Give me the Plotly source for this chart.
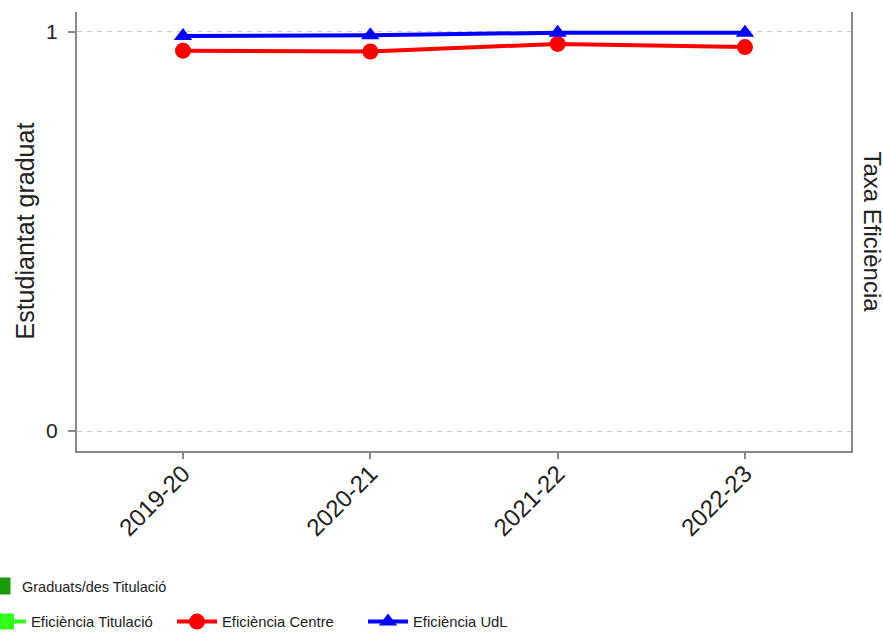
import plotly.graph_objects as go

categories = ["2019-20", "2020-21", "2021-22", "2022-23"]
graduats_titulacio = [None, None, None, None]
eficiencia_titulacio = [None, None, None, None]
eficiencia_centre = [0.953, 0.951, 0.970, 0.962]
eficiencia_udl = [0.990, 0.992, 0.998, 0.998]
y_ticks = [0, 1]

FONT = "Liberation Sans, Arial, sans-serif"
AXIS = "#8a8a8a"
L, W = 77, 774
PB, PH = 451, 439

fig = go.Figure()
fig.add_trace(go.Bar(
    x=categories, y=graduats_titulacio, name="Graduats/des Titulació",
    marker=dict(color="#1a9a08", line=dict(color="#1a9a08", width=5)),
    legend="legend",
))
fig.add_trace(go.Scatter(
    x=categories, y=eficiencia_titulacio, name="Eficiència Titulació",
    mode="lines+markers", line=dict(color="#33ff1a", width=4),
    marker=dict(symbol="square", size=16, color="#33ff1a"),
    legend="legend2",
))
fig.add_trace(go.Scatter(
    x=categories, y=eficiencia_centre, name="Eficiència Centre",
    mode="lines+markers", line=dict(color="#ff0000", width=4),
    marker=dict(symbol="circle", size=16, color="#ff0000"),
    legend="legend2",
))
fig.add_trace(go.Scatter(
    x=categories, y=eficiencia_udl, name="Eficiència UdL",
    mode="lines+markers", line=dict(color="#0000ff", width=4),
    marker=dict(symbol="triangle-up", size=16, color="#0000ff"),
    legend="legend2",
))

fig.update_layout(
    width=883, height=632,
    margin=dict(l=77, r=32, t=12, b=181, autoexpand=False),
    paper_bgcolor="white", plot_bgcolor="white",
    font=dict(family=FONT, color="#222"),
    showlegend=True,
    legend=dict(orientation="h", xref="paper", yref="paper",
                x=(-18 - L) / W, y=(PB - 586) / PH, xanchor="left", yanchor="middle",
                font=dict(size=14.5, family=FONT, color="#222"),
                bgcolor="rgba(0,0,0,0)"),
    legend2=dict(orientation="h", xref="paper", yref="paper",
                 x=(-19 - L) / W, y=(PB - 622) / PH, xanchor="left", yanchor="middle",
                 font=dict(size=14.8, family=FONT, color="#222"),
                 itemwidth=40, entrywidth=136, entrywidthmode="pixels",
                 bgcolor="rgba(0,0,0,0)"),
    xaxis=dict(
        type="category", range=[-0.566, 3.566],
        showline=True, linecolor=AXIS, linewidth=2,
        ticks="outside", ticklen=6, tickcolor=AXIS, tickwidth=2,
        tickangle=-45, tickfont=dict(size=24, family=FONT, color="#222"),
        ticklabelstandoff=-9,
        showgrid=False, zeroline=False,
    ),
    yaxis=dict(
        range=[-0.05, 1.05], tickvals=y_ticks, ticktext=[str(v) for v in y_ticks],
        showline=True, linecolor=AXIS, linewidth=2, mirror=True,
        ticks="outside", ticklen=7, tickcolor=AXIS, tickwidth=2,
        tickfont=dict(size=21, family=FONT, color="#222"),
        ticklabelstandoff=6,
        showgrid=True, gridcolor="#cccccc", gridwidth=1, griddash="5px,5px",
        zeroline=False,
    ),
    annotations=[
        dict(text="Estudiantat graduat", xref="paper", yref="paper",
             x=(24 - L) / W, y=0.5, textangle=-90, showarrow=False,
             xanchor="center", yanchor="middle",
             font=dict(size=25, family=FONT, color="#222")),
        dict(text="Taxa Eficiència", xref="paper", yref="paper",
             x=(872 - L) / W, y=0.5, textangle=90, showarrow=False,
             xanchor="center", yanchor="middle",
             font=dict(size=24, family=FONT, color="#222")),
    ],
)

fig.write_html("out.html", config={"displayModeBar": False},
               post_script="document.body.style.margin='0';")
